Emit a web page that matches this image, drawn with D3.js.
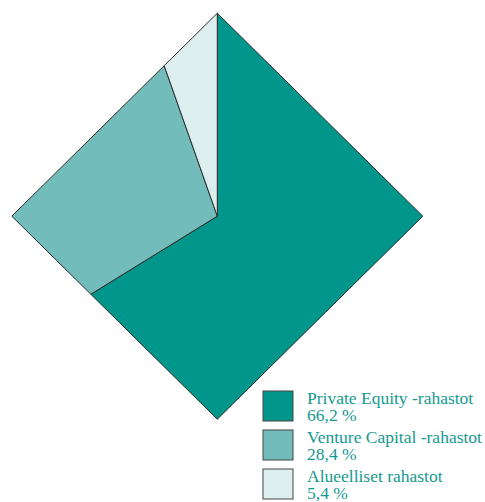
<!DOCTYPE html>
<html>
<head>
<meta charset="utf-8">
<script src="https://cdn.jsdelivr.net/npm/d3@7"></script>
<style>
  body { margin: 0; background: #fff; }
  svg { display: block; }
  .legend_text { font-family: "Liberation Serif", "Times New Roman", serif; font-size: 17.5px; fill: #15998f; }
</style>
</head>
<body>
<svg id="canvas" width="485" height="502"></svg>
<script>
var categories = ['Private Equity -rahastot', 'Venture Capital -rahastot', 'Alueelliset rahastot'];
var values = [66.2, 28.4, 5.4];
var value_labels = ['66,2 %', '28,4 %', '5,4 %'];
var colors = ['#00968b', '#72bdbb', '#ddeeee'];

var chart = {};
chart.cx = 217.3; chart.cy = 216.2; chart.rx = 205.5; chart.ry = 203;

// point on the diamond (|x|/rx + |y|/ry = 1) in direction of angle a (0 = top, clockwise)
chart.edgePoint = function(a) {
  var dx = Math.sin(a), dy = -Math.cos(a);
  var t = 1 / (Math.abs(dx)/chart.rx + Math.abs(dy)/chart.ry);
  return [chart.cx + t*dx, chart.cy + t*dy];
}

chart.slicePath = function(d) {
  var pts = [[chart.cx, chart.cy], chart.edgePoint(d.startAngle)];
  // diamond corners inside the slice
  for (var k = 0; k <= 4; k++) {
    var a = k * Math.PI / 2;
    if (a > d.startAngle + 1e-6 && a < d.endAngle - 1e-6) pts.push(chart.edgePoint(a));
  }
  pts.push(chart.edgePoint(d.endAngle));
  return 'M' + pts.map(p => p[0] + ',' + p[1]).join('L') + 'Z';
}

var pie = d3.pie().sort(null).value(d => d);
var arcs = pie(values);

var svg = d3.select('#canvas');
svg.append('g').selectAll('path').data(arcs).join('path')
  .attr('d', chart.slicePath)
  .attr('fill', (d, i) => colors[i])
  .attr('stroke', '#2b2b2b')
  .attr('stroke-width', 1)
  .attr('stroke-linejoin', 'miter');

// legend
var legend = svg.append('g').attr('transform', 'translate(263,391)');
var items = legend.selectAll('g').data(categories).join('g')
  .attr('transform', (d, i) => 'translate(0,' + (i*39) + ')');
items.append('rect')
  .attr('width', 30).attr('height', 30)
  .attr('fill', (d, i) => colors[i])
  .attr('stroke', '#444').attr('stroke-width', 1);
items.append('text').attr('class', 'legend_text')
  .attr('x', 44).attr('y', 13).text(d => d);
items.append('text').attr('class', 'legend_text')
  .attr('x', 44).attr('y', 30).text((d, i) => value_labels[i]);
</script>
</body>
</html>
